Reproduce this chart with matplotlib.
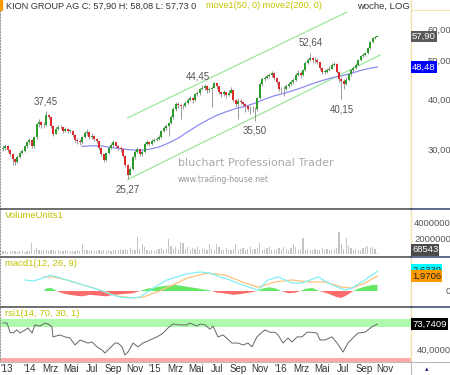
import matplotlib
matplotlib.use("Agg")
import matplotlib.pyplot as plt
import matplotlib.transforms as mtransforms
from matplotlib.lines import Line2D
from matplotlib.patches import Rectangle
import numpy as np
import pandas as pd

plt.rcParams['font.family'] = ['Liberation Sans', 'DejaVu Sans']

##------------------------------------------------------------------##
## Data (weekly candles, week 0 = 2013-10-28)

start_week = pd.Timestamp('2013-10-28')
first_open = 30.1

close = [30.4, 30.6, 30.0, 29.3, 28.4, 28.0, 28.8, 29.5, 29.8, 30.6,
         31.3, 31.8, 30.6, 32.3, 34.8, 35.2, 34.6, 34.7, 36.6, 36.2,
         34.5, 32.9, 33.8, 34.2, 34.2, 33.5, 33.8, 33.5, 33.5, 32.7,
         31.8, 31.5, 31.3, 32.3, 33.0, 33.2, 32.3, 32.5, 32.0, 31.5,
         30.3, 29.2, 28.3, 29.4, 30.3, 30.8, 31.3, 30.6, 30.3, 30.1,
         29.0, 27.5, 26.0, 26.8, 28.8, 29.6, 30.1, 29.3, 29.6, 31.0,
         31.3, 31.1, 31.5, 31.8, 32.0, 32.3, 33.4, 34.1, 34.5, 35.0,
         36.3, 38.1, 39.0, 38.8, 38.6, 38.7, 39.4, 40.1, 40.4, 40.0,
         41.5, 41.6, 42.6, 43.0, 43.3, 42.5, 42.6, 43.0, 44.1, 43.3,
         41.9, 41.5, 41.9, 41.2, 41.8, 42.4, 40.0, 39.2, 39.8, 39.6,
         39.0, 38.6, 38.1, 37.9, 38.1, 37.9, 40.5, 44.0, 45.2, 45.5,
         46.0, 46.2, 46.7, 45.5, 44.5, 42.6, 42.6, 42.6, 43.3, 43.9,
         44.4, 44.9, 46.2, 46.8, 46.2, 47.5, 49.7, 50.4, 51.0, 50.4,
         50.4, 49.8, 48.1, 47.2, 47.2, 47.6, 48.0, 49.0, 49.4, 47.2,
         45.3, 44.8, 44.0, 45.0, 46.5, 47.5, 48.3, 49.0, 50.5, 51.6,
         52.0, 52.5, 54.0, 56.0, 57.3, 57.75, 57.9]

high = [30.9, 31.0, 30.8, 30.2, 29.5, 28.6, 29.1, 29.8, 30.2, 30.9,
        31.6, 32.1, 31.9, 32.5, 35.0, 35.8, 35.5, 35.3, 37.45, 37.0,
        36.5, 34.6, 34.2, 34.7, 34.6, 34.3, 34.2, 34.0, 33.9, 33.6,
        32.8, 32.2, 31.9, 32.5, 33.5, 33.9, 33.3, 33.0, 32.7, 32.2,
        31.6, 30.5, 29.3, 29.6, 30.6, 31.2, 31.7, 31.4, 30.8, 30.6,
        30.2, 29.1, 27.7, 27.2, 29.0, 29.9, 30.5, 30.2, 29.9, 31.3,
        31.8, 31.6, 31.9, 32.2, 32.4, 32.7, 33.7, 34.4, 34.9, 35.3,
        36.6, 38.5, 39.5, 39.6, 39.1, 39.2, 39.9, 40.6, 41.0, 40.8,
        41.8, 42.2, 43.0, 43.6, 43.9, 43.6, 43.2, 43.5, 44.45, 44.2,
        43.4, 42.2, 42.5, 42.0, 42.4, 43.1, 42.5, 40.3, 40.6, 40.3,
        39.8, 39.4, 38.9, 38.6, 38.7, 38.5, 40.8, 44.3, 45.8, 46.1,
        46.5, 46.8, 47.3, 47.0, 45.8, 44.6, 43.2, 43.4, 43.8, 44.5,
        45.0, 45.5, 46.8, 47.5, 47.4, 48.0, 50.2, 51.1, 52.64, 51.4,
        51.3, 50.9, 50.0, 48.4, 47.9, 48.2, 48.8, 49.6, 50.0, 49.7,
        47.4, 45.7, 45.1, 45.6, 46.9, 47.9, 48.7, 49.5, 50.8, 51.9,
        52.4, 52.9, 54.4, 56.4, 57.8, 58.1, 58.08]

low = [29.8, 30.0, 29.6, 28.9, 27.4, 27.5, 27.8, 28.6, 29.2, 29.7,
       30.4, 31.0, 30.3, 30.3, 32.0, 34.3, 34.0, 34.0, 34.5, 35.8,
       34.0, 32.5, 32.8, 33.6, 33.8, 33.1, 33.2, 33.1, 33.0, 32.3,
       31.3, 31.0, 30.8, 31.1, 32.2, 32.6, 32.0, 32.0, 31.6, 31.2,
       30.0, 28.9, 28.0, 28.2, 29.2, 30.1, 30.5, 30.3, 29.9, 29.6,
       28.7, 27.2, 25.27, 25.9, 26.7, 28.5, 29.4, 29.0, 29.0, 29.4,
       30.8, 30.6, 30.9, 31.3, 31.5, 31.8, 32.1, 33.2, 33.7, 32.5,
       34.9, 35.9, 37.6, 38.2, 35.8, 37.9, 38.5, 39.2, 39.8, 39.3,
       39.8, 40.9, 41.3, 42.3, 42.5, 41.7, 41.9, 38.5, 42.8, 42.6,
       41.4, 40.7, 41.0, 40.6, 40.9, 41.6, 39.6, 38.5, 35.9, 39.0,
       38.4, 37.3, 37.5, 37.0, 37.3, 35.50, 37.6, 40.2, 43.4, 44.8,
       45.2, 45.4, 45.8, 44.9, 43.9, 42.1, 41.7, 41.0, 42.3, 42.9,
       43.4, 43.9, 44.6, 45.9, 45.5, 45.9, 47.3, 49.4, 50.2, 49.7,
       49.6, 49.2, 47.7, 46.6, 46.6, 46.8, 47.3, 47.9, 48.6, 46.8,
       44.4, 40.15, 42.6, 43.6, 44.6, 46.1, 47.0, 47.8, 48.6, 50.1,
       51.3, 51.7, 52.3, 53.8, 55.7, 57.0, 57.73]

volume = [0.35, 0.4, 0.3, 0.35, 0.4, 0.45, 0.3, 0.35, 0.4, 0.3,
          0.45, 0.35, 1.5, 0.6, 0.8, 0.5, 0.45, 0.6, 0.5, 0.4,
          0.5, 0.6, 0.4, 0.5, 0.35, 0.45, 0.5, 0.4, 0.35, 0.45,
          0.4, 0.5, 0.35, 1.4, 0.6, 0.5, 0.45, 0.5, 0.4, 0.45,
          0.5, 0.4, 0.55, 0.45, 0.5, 0.4, 0.55, 0.6, 0.5, 0.7,
          0.6, 0.7, 0.55, 0.8, 0.6, 0.6, 2.3, 0.7, 1.4, 1.0,
          0.5, 0.45, 0.5, 0.45, 0.6, 0.7, 0.8, 0.6, 0.7, 2.0,
          1.1, 0.7, 1.0, 0.6, 1.6, 1.5, 0.7, 0.9, 0.6, 0.8,
          0.7, 0.9, 0.6, 0.8, 0.7, 0.6, 1.4, 0.7, 0.6, 1.4,
          1.0, 0.6, 0.5, 0.8, 0.6, 0.5, 0.7, 1.4, 0.6, 0.7,
          0.8, 0.6, 0.7, 0.9, 0.6, 0.7, 0.8, 1.5, 0.6, 0.7,
          0.8, 0.9, 0.6, 0.5, 0.7, 0.8, 0.6, 0.9, 0.7, 0.6,
          0.8, 1.3, 0.9, 0.6, 0.7, 2.1, 0.6, 0.7, 0.5, 0.6,
          0.7, 0.6, 0.5, 0.8, 0.6, 0.7, 0.6, 0.5, 0.7, 0.8,
          2.9, 1.3, 0.7, 2.2, 1.1, 0.8, 0.6, 0.7, 0.6, 0.5,
          0.8, 0.9, 1.1, 0.8, 0.9, 0.7, 0.07]  # millions

# move1(50) line
ma_wk = [33, 37, 41, 45, 49, 53, 57, 61, 65, 69, 73, 77, 81, 85, 89, 93,
         97, 101, 105, 109, 113, 117, 121, 125, 129, 133, 137, 141, 145, 149, 153, 156]
ma_val = [30.6, 30.7, 30.7, 30.4, 30.2, 30.0, 29.9, 30.1, 30.5, 31.2, 32.1, 33.3,
          34.5, 35.6, 36.6, 37.4, 38.1, 38.6, 39.3, 40.2, 41.0, 41.6, 42.3, 43.1,
          44.0, 44.8, 45.5, 46.0, 46.7, 47.5, 48.1, 48.48]

# trend channel
upper_wk, upper_px = [52, 143.3], [36.1, 66.6]
lower_wk, lower_px = [52, 157.1], [25.27, 51.9]

# marked highs / lows
mark_wk = [18, 88, 128, 52, 105, 141]
mark_px = [37.45, 44.45, 52.64, 25.27, 35.50, 40.15]
mark_txt = ['37,45', '44,45', '52,64', '25,27', '35,50', '40,15']

# macd
macd_wk = [9.2, 12.5, 16.7, 19.6, 22.5, 26.7, 33.3, 40.4, 44.6, 48.75, 52.9, 57.1,
           61.25, 68.3, 75.8, 82.1, 86.25, 90.4, 92.5, 99.6, 106.25, 110.4, 114.6,
           120.4, 124.6, 131.25, 137.1, 142.5, 145.4, 150.8, 156]
macd_val = [1.45, 1.3, 1.7, 2.1, 1.85, 1.45, 0.8, 0.13, -0.4, -0.8, -0.9, -0.8,
            0.13, 1.45, 2.2, 2.5, 2.35, 1.85, 1.7, 0.8, 0.13, 1.45, 1.85,
            1.05, 1.05, 1.85, 0.8, 0.13, 0.4, 1.45, 2.6]
sig_wk = [16.7, 20.8, 26.7, 33.3, 40.4, 47.5, 54.2, 58.3, 64.2, 70.8, 76.7, 85,
          92.5, 99.6, 106.25, 113.3, 120.4, 127.1, 134.2, 141.25, 145.4, 150.8, 156]
sig_val = [1.85, 1.85, 1.45, 0.8, 0.13, -0.65, -0.9, -0.8, -0.13, 0.8, 1.7, 2.35,
           2.1, 1.2, 0.5, 1.2, 1.45, 1.2, 1.2, 0.5, 0.4, 1.05, 1.97]
hist_wk = [17, 18, 20, 22, 23, 26, 30, 33, 36, 40, 43, 46, 50, 54, 57, 60, 64, 68,
           72, 76, 80, 84, 87, 89, 92, 96, 99, 103, 106, 108, 111, 114, 116, 119,
           122, 124, 126, 129, 131, 133, 136, 139, 141, 143, 145, 146, 148, 151, 154, 156]
hist_val = [0.0, 0.35, 0.4, 0.1, -0.1, -0.4, -0.6, -0.7, -0.5, -0.6, -0.7, -0.5,
            -0.4, -0.3, 0.0, 0.3, 0.5, 0.7, 0.8, 0.6, 0.4, 0.2, 0.0, -0.2, -0.3,
            -0.5, -0.4, -0.2, 0.0, 0.3, 0.5, 0.3, 0.0, -0.3, -0.2, 0.0, 0.3, 0.4,
            0.1, -0.1, -0.4, -0.8, -0.9, -0.6, -0.2, 0.0, 0.3, 0.6, 0.8, 0.8]

# rsi
rsi_wk = [0, 1.7, 2.9, 4.2, 5.8, 7.1, 9.2, 10.4, 12.1, 13.3, 15.4, 17.5, 18.75, 20.4,
          20.8, 23.75, 25.8, 27.9, 30, 32.1, 34.2, 35.4, 37.1, 39.2, 41.25, 42.5, 44.6,
          46.7, 47.9, 49.6, 50.8, 52.1, 54.2, 56.25, 58.3, 61.25, 64.2, 66.7, 68.75,
          70.8, 73.75, 76.7, 77.9, 80.8, 82.1, 84.2, 86.25, 87.5, 89.6, 91.7, 95.4,
          97.9, 100, 102.1, 103.75, 105.8, 107.9, 109.2, 111.25, 113.3, 114.6, 116.7,
          118.75, 120.4, 122.5, 124.6, 126.7, 128.75, 130.8, 132.1, 134.2, 137.1,
          139.2, 141.7, 143.75, 145.8, 147.9, 150.8, 153.75, 156]
rsi_val = [75, 75, 63, 62, 66, 62, 66, 68.6, 62, 72.5, 71, 75, 73.7, 70,
           57, 59.5, 57, 55.6, 46.5, 53, 50.4, 49, 50.4, 44, 40, 36, 42.6,
           49, 49, 44, 33.5, 37.4, 49, 44, 49, 53, 57, 62, 68.6,
           73.7, 72.5, 72.5, 75, 71, 73.7, 72.5, 67, 71, 57, 59.5, 49,
           49, 46.5, 49, 44, 57, 63, 66, 63, 63, 59.5, 49,
           55.6, 50.4, 57, 57, 63, 63, 62, 53, 53, 57,
           49, 37.4, 49, 55.6, 62, 63, 70, 73.74]

tick_dates = ['2013-11-07', '2014-01-15', '2014-03-15', '2014-05-15', '2014-07-15',
              '2014-09-15', '2014-11-15', '2015-01-15', '2015-03-15', '2015-05-15',
              '2015-07-15', '2015-09-15', '2015-11-15', '2016-01-15', '2016-03-15',
              '2016-05-15', '2016-07-15', '2016-09-15', '2016-11-15']
tick_labels = ["'13", "'14", 'Mrz', 'Mai', 'Jul', 'Sep', 'Nov', "'15", 'Mrz', 'Mai',
               'Jul', 'Sep', 'Nov', "'16", 'Mrz', 'Mai', 'Jul', 'Sep', 'Nov']

##------------------------------------------------------------------##
## Figure setup (pixel layout, 450 x 375)

W, H = 450, 375
PLOT_R = 411
fig = plt.figure(figsize=(W / 100, H / 100), dpi=100)
fig.patch.set_facecolor('white')

def panel(top, bottom):
    a = fig.add_axes([0, 1 - bottom / H, PLOT_R / W, (bottom - top) / H])
    a.set_xlim(-1.25, 170)
    a.tick_params(left=False, bottom=False, right=False, labelleft=False, labelbottom=False)
    for s in ['top', 'bottom']:
        a.spines[s].set_visible(False)
    a.spines['left'].set_linestyle(':')
    a.spines['left'].set_color('#999999')
    a.spines['left'].set_linewidth(0.8)
    a.spines['right'].set_color('#f2e2b0')
    a.spines['right'].set_linewidth(1.0)
    return a

ax = panel(0, 209)
ax_vol = panel(209, 257)
ax_macd = panel(257, 307)
ax_rsi = panel(307, 362)

FS = 6.8
OLIVE = '#c2c200'
RX_LBL = 451 / PLOT_R     # right-aligned tick labels (clipped at image edge)
RX_BOX = 412 / PLOT_R     # value boxes

def right_label(a, y, s):
    tr = mtransforms.blended_transform_factory(a.transAxes, a.transData)
    a.text(RX_LBL, y, s, transform=tr, ha='right', va='center', fontsize=FS,
           color='#555555', clip_on=False, zorder=5)

def right_box(a, y, s, fc, tc):
    tr = mtransforms.blended_transform_factory(a.transAxes, a.transData)
    a.text(RX_BOX, y, s, transform=tr, ha='left', va='center', fontsize=FS,
           color=tc, clip_on=False, zorder=6,
           bbox=dict(boxstyle='square,pad=0.12', fc=fc, ec='none'))

##------------------------------------------------------------------##
## Price panel

wk = np.arange(len(close))
opens = [first_open] + close[:-1]
c_arr, o_arr = np.array(close), np.array(opens)
up = c_arr >= o_arr
ax.set_yscale('log')
ax.set_ylim(21.3, 71.4)
ax.yaxis.set_minor_locator(matplotlib.ticker.NullLocator())
ax.yaxis.set_major_locator(matplotlib.ticker.NullLocator())

ax.vlines(wk, low, high, color='#8a8a8a', lw=0.6, zorder=2)
body_lo = np.minimum(c_arr, o_arr)
body_h = np.maximum(np.abs(c_arr - o_arr), c_arr * 0.003)
ax.bar(wk, body_h, bottom=body_lo, width=0.8,
       color=np.where(up, '#2a9e2a', '#dd2a2a'), edgecolor='none', zorder=3)

ax.plot(ma_wk, ma_val, color='#8c8cf0', lw=0.9, zorder=2)
ax.plot(upper_wk, upper_px, color='#9be89b', lw=0.9, zorder=1)
ax.plot(lower_wk, lower_px, color='#9be89b', lw=0.9, zorder=1)

for i, (w, p, t) in enumerate(zip(mark_wk, mark_px, mark_txt)):
    if i < 3:
        dx, dy = (-16, 5) if t == '44,45' else (0, 10)
    else:
        dx, dy = 0, -10
    ax.annotate(t, (w, p), xytext=(dx, dy), textcoords='offset pixels',
                ha='center', va='center', fontsize=7, color='#555555')

for v in [30, 40, 50, 60]:
    right_label(ax, v, '%d,00' % v)
right_box(ax, 57.9, '57,90', '#5a5a5a', 'white')
right_box(ax, 48.48, '48,48', '#0000ff', 'white')

# watermark
fig.text(178 / W, 1 - 163 / H, 'bluchart Professional Trader', fontsize=8,
         family='DejaVu Sans', color='#aaaaaa', va='center')
fig.text(178 / W, 1 - 179 / H, 'www.trading-house.net', fontsize=5.6,
         family='DejaVu Sans', color='#999999', va='center')

# header
fig.text(6 / W, 1 - 6 / H, 'KION GROUP AG C: 57,90 H: 58,08 L: 57,73 0',
         fontsize=6.6, color='#333333', va='center')
fig.text(206 / W, 1 - 6 / H, 'move1(50, 0) move2(200, 0)', fontsize=6.6,
         color=OLIVE, va='center')
fig.text(357 / W, 1 - 6 / H, 'woche, LOG', fontsize=FS, color='#333333', va='center')
fig.add_artist(Rectangle((0, 1 - 10 / H), 2 / W, 10 / H, color='#ff9a00',
                         transform=fig.transFigure))

##------------------------------------------------------------------##
## Volume panel

vol = np.array(volume) * 1e6
ax_vol.set_ylim(-0.4e6, 6.0e6)
ax_vol.bar(wk, vol, width=0.45, color='#c4c4c4', edgecolor='none')
ax_vol.yaxis.set_major_locator(matplotlib.ticker.NullLocator())
ax_vol.text(5 / PLOT_R, 1 - 6 / 48, 'VolumeUnits1', transform=ax_vol.transAxes,
            fontsize=FS, color=OLIVE, va='center')
right_label(ax_vol, 4e6, '4000000')
right_label(ax_vol, 2e6, '2000000')
right_box(ax_vol, 0.55e6, '68543', '#4a4a4a', 'white')

##------------------------------------------------------------------##
## MACD panel

ax_macd.set_ylim(-2.1, 4.47)
ax_macd.yaxis.set_major_locator(matplotlib.ticker.NullLocator())
hw, hv = np.array(hist_wk), np.array(hist_val)
ax_macd.fill_between(hw, 0, hv, where=hv >= 0, color='#66e866', lw=0, interpolate=True)
ax_macd.fill_between(hw, 0, hv, where=hv <= 0, color='#ff6b6b', lw=0, interpolate=True)
ax_macd.plot(sig_wk, sig_val, color='#ffc27a', lw=0.9)
ax_macd.plot(macd_wk, macd_val, color='#7ff0f5', lw=0.9)
ax_macd.text(5 / PLOT_R, 1 - 6 / 50, 'macd1(12, 26, 9)', transform=ax_macd.transAxes,
             fontsize=FS, color=OLIVE, va='center')
right_label(ax_macd, 0, '0')
right_box(ax_macd, 2.75, '2,6339', '#00ffff', '#333333')
right_box(ax_macd, 1.9706, '1,9706', '#ff9900', '#222222')

##------------------------------------------------------------------##
## RSI panel

ax_rsi.set_ylim(24.4, 95.8)
ax_rsi.yaxis.set_major_locator(matplotlib.ticker.NullLocator())
ax_rsi.axhspan(70, 80.4, color='#adfaad', lw=0, zorder=0)
ax_rsi.axhspan(20, 30, color='#ffaaaa', lw=0, zorder=0)
ax_rsi.plot(rsi_wk, rsi_val, color='#666666', lw=0.7)
ax_rsi.text(5 / PLOT_R, 1 - 7 / 55, 'rsi1(14, 70, 30, 1)', transform=ax_rsi.transAxes,
            fontsize=FS, color=OLIVE, va='center')
right_label(ax_rsi, 40, '40,0000')
right_box(ax_rsi, 73.7409, '73,7409', '#000000', 'white')

tick_pos = (pd.to_datetime(tick_dates) - start_week).days / 7.0
ax_rsi.set_xticks(tick_pos)
ax_rsi.set_xticklabels(tick_labels)
ax_rsi.tick_params(axis='x', length=0, pad=1.5, labelbottom=True,
                   labelsize=7, labelcolor='#333333')

##------------------------------------------------------------------##
## Separators

for yy in [209, 257, 307]:
    fig.add_artist(Line2D([0, PLOT_R / W], [1 - yy / H] * 2, color='#555555', lw=1.2))
    fig.add_artist(Line2D([PLOT_R / W, 1], [1 - yy / H] * 2, color='#44507a', lw=1.2))
fig.add_artist(Line2D([0, 1], [1 - 362 / H] * 2, color='#bbbbbb', lw=0.8))
fig.add_artist(Line2D([PLOT_R / W] * 2, [0, 1 - 362 / H], color='#bbbbbb', lw=0.8))
fig.add_artist(Line2D([PLOT_R / W, 1], [1 - 10 / H] * 2, color='#f2e2b0', lw=0.8))
fig.text(427 / W, 1 - 369 / H, '\u25b4', fontsize=5, color='#1a237e',
         family='DejaVu Sans', ha='center', va='center')

fig.savefig('out.png', dpi=100)
